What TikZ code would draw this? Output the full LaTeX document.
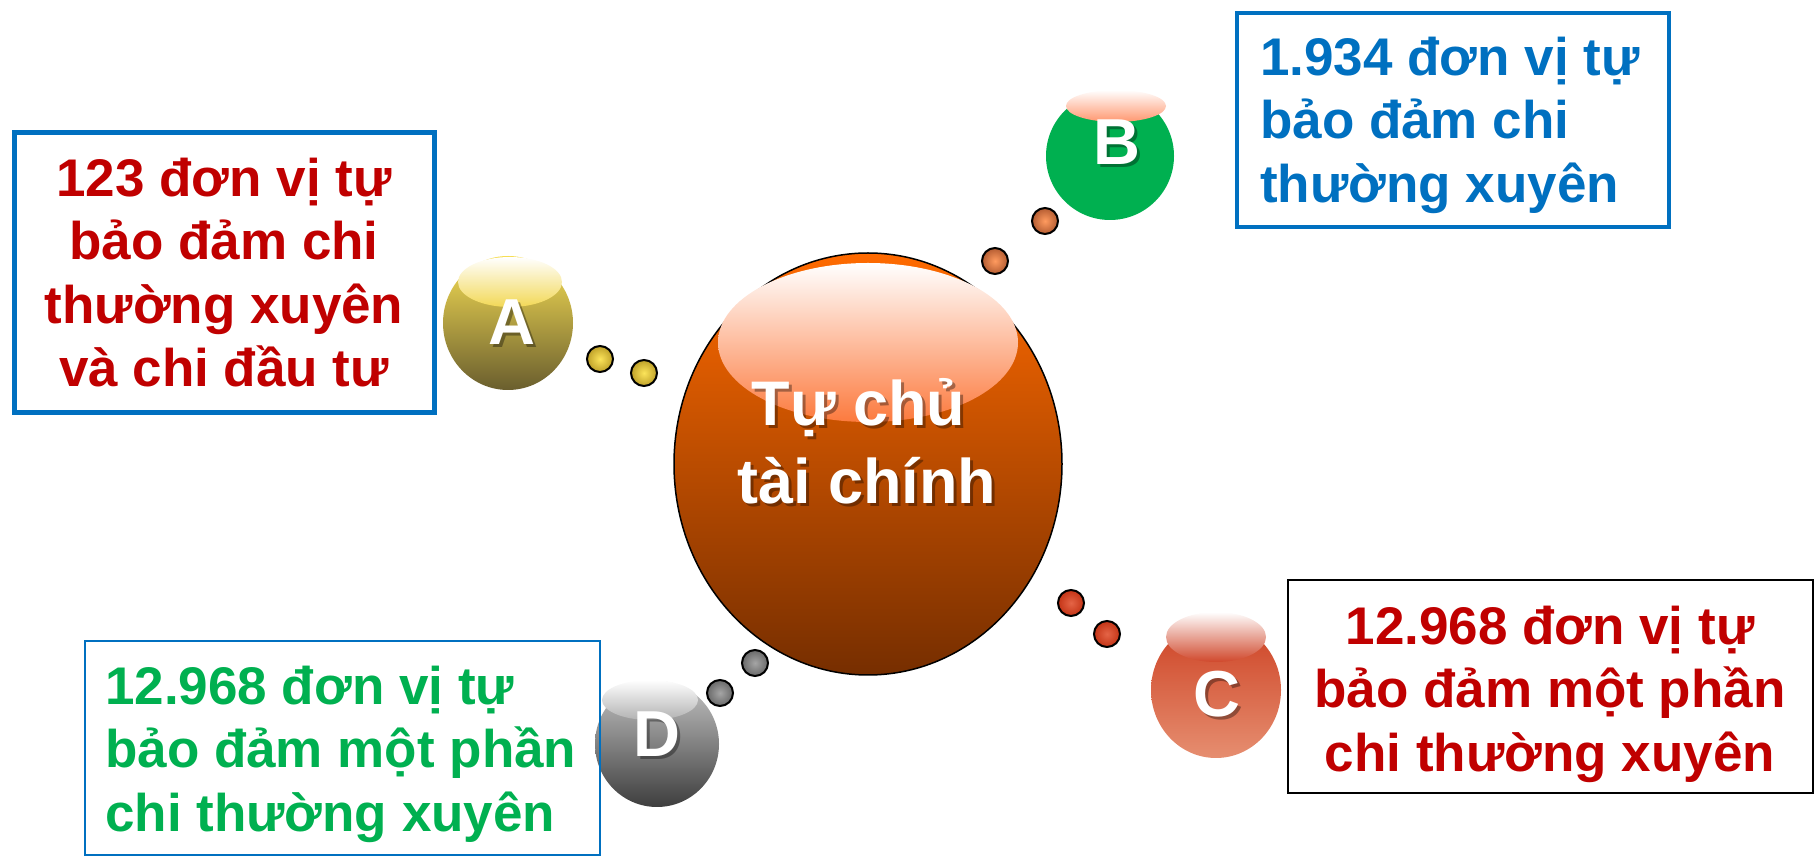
\documentclass[tikz,border=0pt]{standalone}
\usepackage{fontspec}
\setmainfont{Liberation Sans}
\definecolor{boxblue}{RGB}{0,112,192}
\definecolor{txtred}{RGB}{192,0,0}
\definecolor{txtgreen}{RGB}{0,176,80}
\definecolor{ctop}{RGB}{255,106,0}
\definecolor{cmid}{RGB}{214,88,0}
\definecolor{cbot}{RGB}{118,46,0}
\definecolor{chl}{RGB}{252,122,62}
\definecolor{atop}{RGB}{246,222,84}
\definecolor{abot}{RGB}{106,94,46}
\definecolor{ahl}{RGB}{242,216,86}
\definecolor{bgreen}{RGB}{0,176,80}
\definecolor{bhl}{RGB}{255,150,110}
\definecolor{ctopc}{RGB}{205,66,36}
\definecolor{cbotc}{RGB}{230,142,112}
\definecolor{chlc}{RGB}{208,72,44}
\definecolor{dtop}{RGB}{196,196,196}
\definecolor{dbot}{RGB}{62,62,62}
\definecolor{dhl}{RGB}{178,178,178}
\definecolor{adotin}{RGB}{252,228,90}
\definecolor{adotout}{RGB}{190,160,40}
\definecolor{bdotin}{RGB}{255,155,95}
\definecolor{bdotout}{RGB}{180,92,50}
\definecolor{cdotin}{RGB}{228,100,70}
\definecolor{cdotout}{RGB}{196,52,22}
\definecolor{ddotin}{RGB}{165,165,165}
\definecolor{ddotout}{RGB}{105,105,105}
\begin{document}
\begin{tikzpicture}[x=1pt,y=1pt,
  boxtext/.style={inner sep=0pt, font={\fontsize{53}{63.5}\selectfont\bfseries\lineskiplimit=-100pt}},
  bigtext/.style={inner sep=0pt, font={\fontsize{63}{78}\selectfont\bfseries\lineskiplimit=-100pt}},
  lettertext/.style={inner sep=0pt, anchor=base, text=white, font={\fontsize{65}{78}\selectfont\bfseries}},
  shadowtext/.style={text=black, opacity=0.35},
  dotline/.style={line width=2pt, draw=black}
]
\useasboundingbox (0,0) rectangle (1816,857);

% ---------- central sphere ----------
\shadedraw[top color=ctop, middle color=cmid, bottom color=cbot, draw=black, line width=1.5pt]
  (868,393) ellipse [x radius=194pt, y radius=211pt];
\shade[top color=white, bottom color=chl] (868,514.5) ellipse [x radius=150pt, y radius=79.5pt];
\node[bigtext, shadowtext, align=center, anchor=north] (centreshadow) at (870,499)
  {\rule{0pt}{70pt}Tự chủ\hspace*{17pt}\\tài chính};
\node[bigtext, text=white, align=center, anchor=north] (centre) at (867,502)
  {\rule{0pt}{70pt}Tự chủ\hspace*{17pt}\\tài chính};

% ---------- dots ----------
\shadedraw[dotline, inner color=adotin, outer color=adotout] (600,498) circle [radius=13pt];
\shadedraw[dotline, inner color=adotin, outer color=adotout] (644,484) circle [radius=13pt];
\shadedraw[dotline, inner color=bdotin, outer color=bdotout] (1045,636) circle [radius=13pt];
\shadedraw[dotline, inner color=bdotin, outer color=bdotout] (995,596) circle [radius=13pt];
\shadedraw[dotline, inner color=cdotin, outer color=cdotout] (1071,254) circle [radius=13pt];
\shadedraw[dotline, inner color=cdotin, outer color=cdotout] (1107,223) circle [radius=13pt];
\shadedraw[dotline, inner color=ddotin, outer color=ddotout] (720,164) circle [radius=13pt];
\shadedraw[dotline, inner color=ddotin, outer color=ddotout] (755,194) circle [radius=13pt];

% ---------- ball A ----------
\shade[top color=atop, bottom color=abot] (508,534) ellipse [x radius=65pt, y radius=67pt];
\shade[top color=white, bottom color=ahl] (510,575) ellipse [x radius=52pt, y radius=25pt];
\node[lettertext, shadowtext] (ashadow) at (515,509) {A};
\node[lettertext] (aletter) at (512,512) {A};

% ---------- ball B ----------
\fill[bgreen] (1110,701) circle [radius=64pt];
\shade[top color=white, bottom color=bhl] (1116,751) ellipse [x radius=50pt, y radius=16pt];
\node[lettertext, shadowtext] (bshadow) at (1120,689) {B};
\node[lettertext] (bletter) at (1117,692) {B};

% ---------- ball C ----------
\shade[top color=ctopc, bottom color=cbotc] (1216,167) ellipse [x radius=65pt, y radius=68pt];
\shade[top color=white, bottom color=chlc] (1216,220) ellipse [x radius=50pt, y radius=25pt];
\node[lettertext, shadowtext] (cshadow) at (1220,137) {C};
\node[lettertext] (cletter) at (1217,140) {C};

% ---------- ball D ----------
\shade[top color=dtop, bottom color=dbot] (657,113) ellipse [x radius=62pt, y radius=63pt];
\shade[top color=white, bottom color=dhl] (650,157) ellipse [x radius=48pt, y radius=20pt];
\node[lettertext, shadowtext] (dshadow) at (660,97) {D};
\node[lettertext] (dletter) at (657,100) {D};

% ---------- boxes ----------
\draw[boxblue, line width=5pt] (14,444) rectangle (434,724);
\node[boxtext, text=txtred, align=center, anchor=north] (textA) at (224,721)
  {\rule{0pt}{60pt}123 đơn vị tự\\bảo đảm chi\\thường xuyên\\và chi đầu tư};

\draw[boxblue, line width=4pt] (1237,630) rectangle (1669,844);
\node[boxtext, text=boxblue, align=left, anchor=north west] (textB) at (1260,842)
  {\rule{0pt}{60pt}1.934 đơn vị tự\\bảo đảm chi\\thường xuyên};

\draw[black, line width=2.5pt] (1288,64) rectangle (1813,277);
\node[boxtext, text=txtred, align=center, anchor=north] (textC) at (1550,273)
  {\rule{0pt}{60pt}12.968 đơn vị tự\\bảo đảm một phần\\chi thường xuyên};

\draw[boxblue, line width=1.5pt] (85,2) rectangle (600,216);
\node[boxtext, text=txtgreen, align=left, anchor=north west] (textD) at (105,213)
  {\rule{0pt}{60pt}12.968 đơn vị tự\\bảo đảm một phần\\chi thường xuyên};
\end{tikzpicture}
\end{document}
